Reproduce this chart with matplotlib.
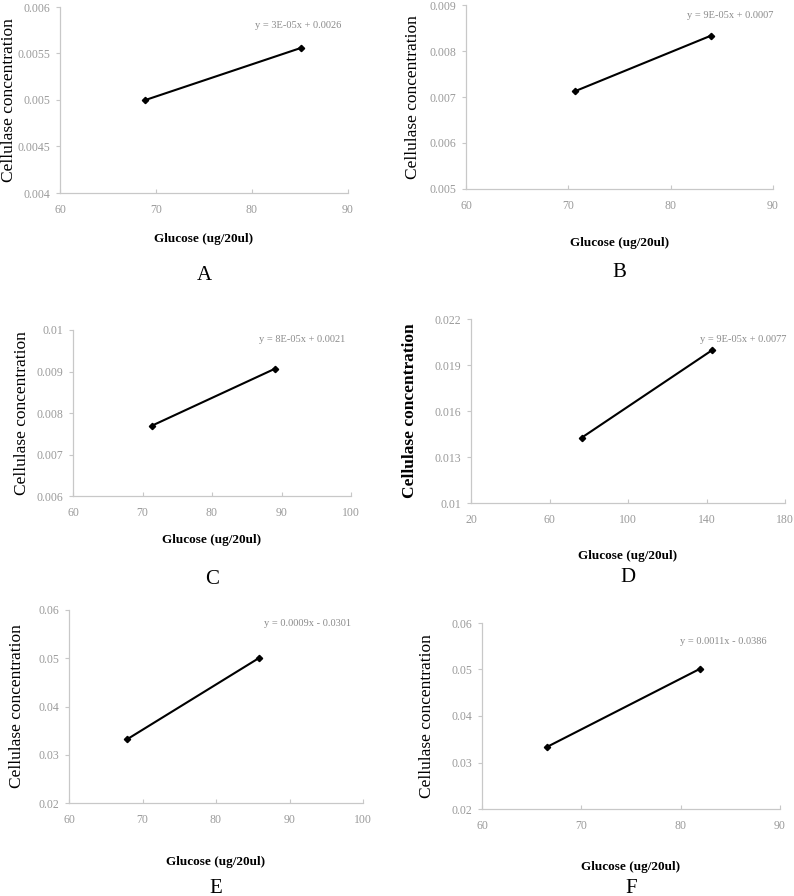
import numpy as np
import matplotlib.pyplot as plt

# data (x: glucose ug/20ul, y: cellulase concentration)
glucose_a = [68.9, 85.1]
cellulase_a = [0.0050, 0.00556]
glucose_b = [70.7, 83.9]
cellulase_b = [0.00713, 0.00833]
glucose_c = [71.3, 89.1]
cellulase_c = [0.00769, 0.00907]
glucose_d = [76.4, 143.0]
cellulase_d = [0.01426, 0.01998]
glucose_e = [67.9, 85.8]
cellulase_e = [0.0332, 0.0500]
glucose_f = [66.5, 81.9]
cellulase_f = [0.0333, 0.0501]

equations = ['y = 3E-05x + 0.0026', 'y = 9E-05x + 0.0007', 'y = 8E-05x + 0.0021',
             'y = 9E-05x + 0.0077', 'y = 0.0009x - 0.0301', 'y = 0.0011x - 0.0386']
letters = ['A', 'B', 'C', 'D', 'E', 'F']

xticks = [[60, 70, 80, 90], [60, 70, 80, 90], [60, 70, 80, 90, 100],
          [20, 60, 100, 140, 180], [60, 70, 80, 90, 100], [60, 70, 80, 90]]
yticks = [[0.004, 0.0045, 0.005, 0.0055, 0.006],
          [0.005, 0.006, 0.007, 0.008, 0.009],
          [0.006, 0.007, 0.008, 0.009, 0.01],
          [0.01, 0.013, 0.016, 0.019, 0.022],
          [0.02, 0.03, 0.04, 0.05, 0.06],
          [0.02, 0.03, 0.04, 0.05, 0.06]]

xs = [glucose_a, glucose_b, glucose_c, glucose_d, glucose_e, glucose_f]
ys = [cellulase_a, cellulase_b, cellulase_c, cellulase_d, cellulase_e, cellulase_f]

# layout in pixels of the 794x896 image: axes box, ylabel x, xlabel y, letter y, equation pos
W, H = 794, 896
boxes = [(60, 7, 348, 193), (466, 5, 773, 189), (73, 330, 351, 496),
         (471, 319, 785, 503), (69, 610, 363, 803), (482, 623, 780, 809)]
ylab_x = [9, 413, 22, 410, 17, 427]
xlab_y = [239, 243, 540, 556, 862, 867]
let_y = [275, 272, 579, 578, 888, 888]
eq_pos = [(298, 25), (730, 15), (302, 339), (743, 339), (308, 623), (723, 641)]

gray = '#9a9a9a'
serif = ['Liberation Serif', 'DejaVu Serif']

fig = plt.figure(figsize=(W / 100, H / 100), dpi=100)

for i in range(6):
    l, t, r, b = boxes[i]
    ax = fig.add_axes([l / W, 1 - b / H, (r - l) / W, (b - t) / H])
    ax.plot(xs[i], ys[i], color='black', lw=1.5, marker='D', ms=3.2)
    ax.set_xlim(xticks[i][0], xticks[i][-1])
    ax.set_ylim(yticks[i][0], yticks[i][-1])
    ax.set_xticks(xticks[i])
    ax.set_yticks(yticks[i])
    ax.set_xticklabels([str(v) for v in xticks[i]], fontfamily=serif, color=gray, fontsize=8.5)
    ax.set_yticklabels([f'{v:g}' for v in yticks[i]], fontfamily=serif, color=gray, fontsize=8.5)
    ax.tick_params(axis='x', direction='in', length=3, color='#c8c8c8', pad=8)
    ax.tick_params(axis='y', direction='out', length=3, color='#c8c8c8', pad=4)
    for s in ['top', 'right']:
        ax.spines[s].set_visible(False)
    for s in ['left', 'bottom']:
        ax.spines[s].set_color('#c8c8c8')
        ax.spines[s].set_linewidth(0.9)

    # y label
    ycen = (t + b) / 2
    fig.text(ylab_x[i] / W, 1 - ycen / H, 'Cellulase concentration', rotation=90,
             ha='center', va='center', fontfamily=serif, fontsize=12.5,
             fontweight='bold' if i == 3 else 'normal')
    # x label
    xcen = (l + r) / 2
    fig.text(xcen / W, 1 - xlab_y[i] / H, 'Glucose (ug/20ul)', ha='center', va='center',
             fontfamily=serif, fontsize=9.5, fontweight='bold')
    # panel letter
    fig.text(xcen / W, 1 - let_y[i] / H, letters[i], ha='center', va='center',
             fontfamily=serif, fontsize=15)
    # trendline equation
    ex, ey = eq_pos[i]
    fig.text(ex / W, 1 - ey / H, equations[i], ha='center', va='center',
             fontfamily=serif, fontsize=7.5, color='#8a8a8a')

fig.savefig('out.png', dpi=100)
